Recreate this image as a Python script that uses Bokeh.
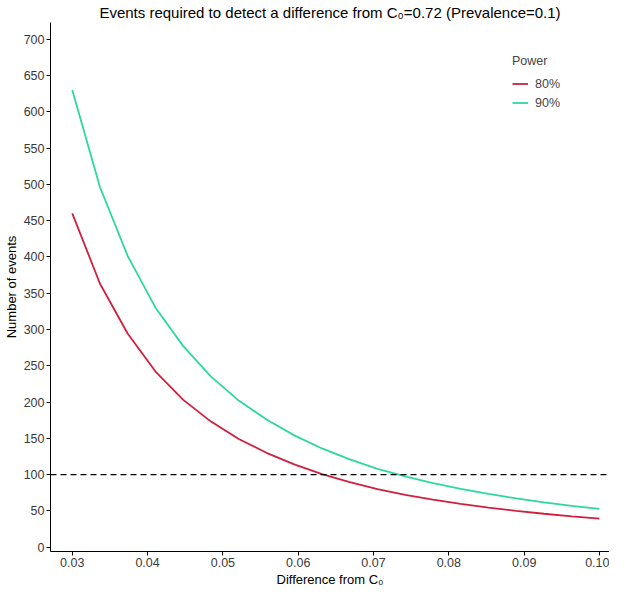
from bokeh.plotting import figure
from bokeh.models import Range1d, FixedTicker, NumeralTickFormatter, Span, Legend, LegendItem, Title
from bokeh.embed import file_html
from bokeh.resources import INLINE

# ---- data ----
difference = [0.03, 0.033684, 0.037368, 0.041053, 0.044737, 0.048421, 0.052105,
              0.055789, 0.059474, 0.063158, 0.066842, 0.070526, 0.074211, 0.077895,
              0.081579, 0.085263, 0.088947, 0.092632, 0.096316, 0.10]
events_80 = [460, 363, 294, 242, 203, 173, 149, 130, 114, 100.5,
             89.5, 80, 72, 65.5, 59.5, 54.5, 50, 46, 42.5, 39.3]
events_90 = [630, 496, 401, 330, 277, 235, 202, 176, 154, 136,
             121, 108, 97.5, 88.3, 80.2, 73.3, 67.1, 61.8, 57.0, 52.8]
power_labels = ["80%", "90%"]
threshold = 100
x_ticks = [0.03, 0.04, 0.05, 0.06, 0.07, 0.08, 0.09, 0.10]
y_ticks = [0, 50, 100, 150, 200, 250, 300, 350, 400, 450, 500, 550, 600, 650, 700]

FONT = "Liberation Sans"
colors = ["#D0203E", "#2DD8A0"]

p = figure(width=609, height=586, output_backend="svg", toolbar_location=None,
           x_range=Range1d(0.02711, 0.10133), y_range=Range1d(-6, 723),
           title="Events required to detect a difference from C\u2080=0.72 (Prevalence=0.1)",
           min_border_left=0, min_border_right=0, min_border_top=0, min_border_bottom=0)

p.title.align = "center"
p.title.text_font = FONT
p.title.text_font_style = "normal"
p.title.text_font_size = "15px"
p.title.text_color = "black"
p.title.standoff = 3

p.outline_line_color = None
p.xgrid.grid_line_color = None
p.ygrid.grid_line_color = None

for ax in (p.xaxis, p.yaxis):
    ax.axis_line_color = "black"
    ax.axis_line_width = 1
    ax.major_tick_line_color = "black"
    ax.major_tick_in = 0
    ax.major_tick_out = 4
    ax.minor_tick_line_color = None
    ax.major_label_text_font = FONT
    ax.major_label_text_font_size = "12.5px"
    ax.major_label_text_color = "#3a3a3a"
    ax.axis_label_text_font = FONT
    ax.axis_label_text_font_size = "13px"
    ax.axis_label_text_font_style = "normal"
    ax.axis_label_text_color = "black"
    ax.major_label_standoff = 2
    ax.axis_label_standoff = 2

p.xaxis.ticker = FixedTicker(ticks=x_ticks)
p.xaxis.formatter = NumeralTickFormatter(format="0.00")
p.yaxis.ticker = FixedTicker(ticks=y_ticks)
p.yaxis.axis_label = "Number of events"

xtitle = Title(text="Difference from C\u2080", align="center", text_font=FONT,
               text_font_size="13px", text_font_style="normal", text_color="black",
               standoff=0)
p.add_layout(xtitle, "below")

r80 = p.line(difference, events_80, line_color=colors[0], line_width=1.8)
r90 = p.line(difference, events_90, line_color=colors[1], line_width=1.8)

p.add_layout(Span(location=threshold, dimension="width", line_color="black",
                  line_width=1.3, line_dash="6 4"))

legend = Legend(items=[LegendItem(label=power_labels[0], renderers=[r80]),
                       LegendItem(label=power_labels[1], renderers=[r90])],
                location=(462, 439), title="Power")
legend.title_text_font = FONT
legend.title_text_font_style = "normal"
legend.title_text_font_size = "12.5px"
legend.title_standoff = 6
legend.label_text_font = FONT
legend.label_text_font_size = "12.5px"
legend.glyph_width = 16
legend.glyph_height = 19
legend.label_height = 19
legend.label_standoff = 7
legend.spacing = 0
legend.padding = 0
legend.margin = 0
legend.border_line_color = None
legend.background_fill_alpha = 0
p.add_layout(legend)

open("out.html", "w").write(file_html(p, INLINE))
